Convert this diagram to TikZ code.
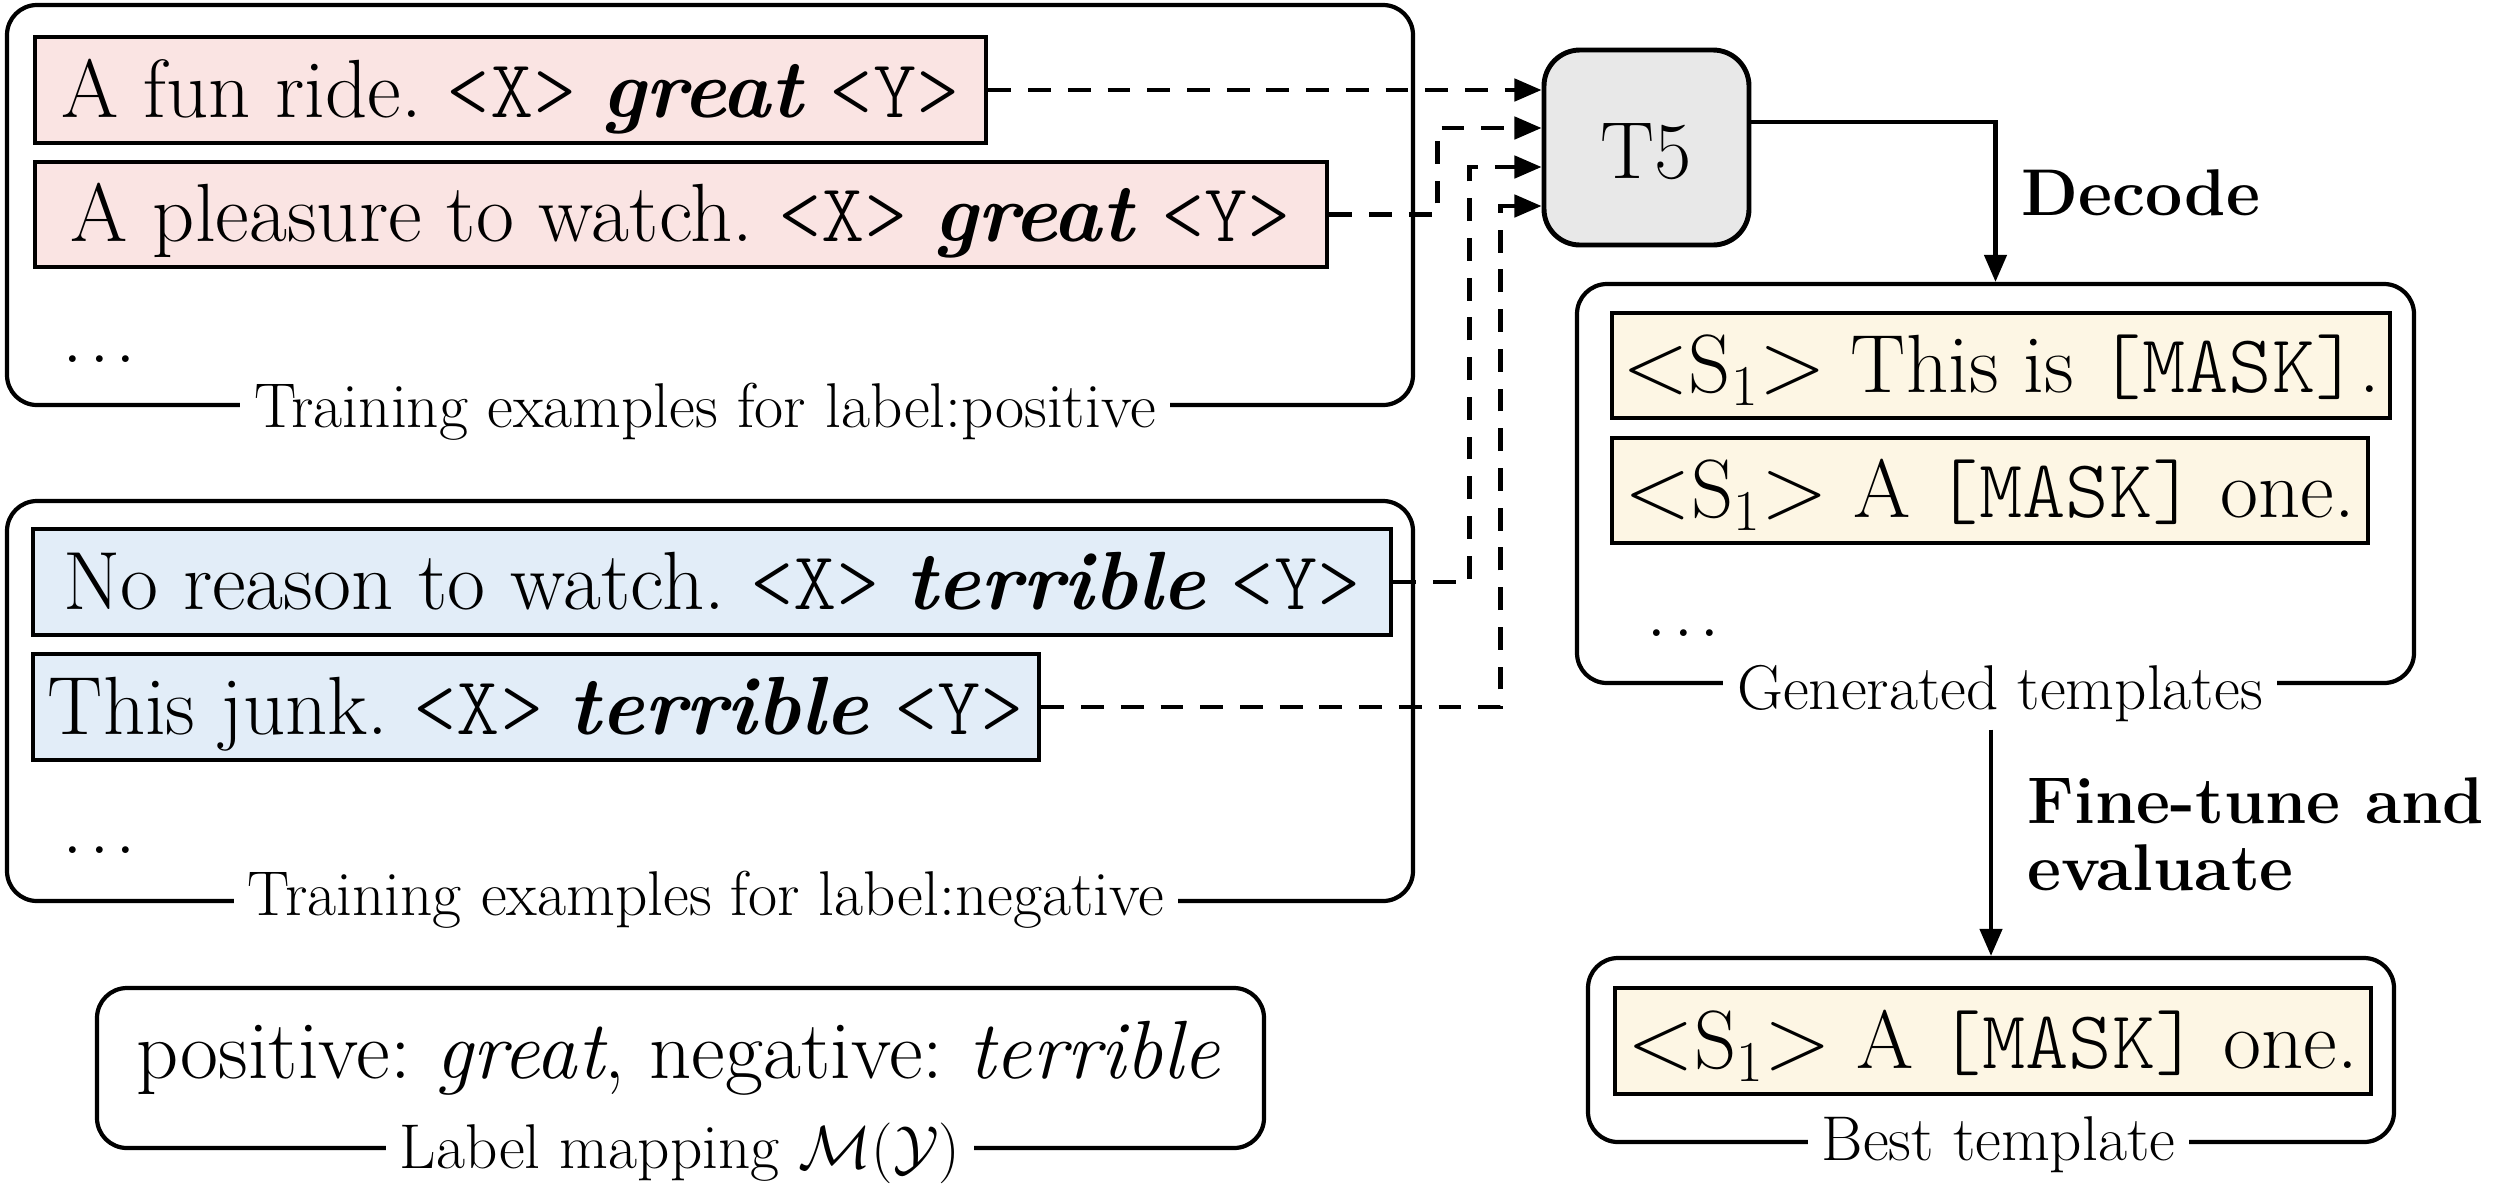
\documentclass[tikz,border=0pt]{standalone}
\usepackage{fontspec}
\setmonofont{lmmonolt10-regular.otf}
\usetikzlibrary{arrows.meta}
\frenchspacing

\definecolor{posfill}{RGB}{250,228,227}
\definecolor{negfill}{RGB}{226,237,248}
\definecolor{tmplfill}{RGB}{253,246,228}
\definecolor{modelfill}{RGB}{232,232,232}

\begin{document}
\begin{tikzpicture}[
	group/.style={draw, line width=1.2pt, rounded corners=0.3cm, inner sep=0pt},
	sample/.style={draw, line width=1.4pt, inner sep=0pt, text height=15.4pt, text depth=0pt, font=\fontsize{23.5}{28}\selectfont},
	bodytext/.style={inner sep=0pt, font=\fontsize{23.5}{28}\selectfont},
	grouplabel/.style={fill=white, anchor=base, inner xsep=4pt, inner ysep=1pt, font=\fontsize{18}{21}\selectfont},
	steplabel/.style={align=left, font=\fontsize{18.8}{19}\selectfont\bfseries},
	feed/.style={line width=1.2pt, dash pattern=on 6.5pt off 4.8pt, -{Triangle[length=7.7pt, width=6.3pt]}},
	flow/.style={line width=1.2pt, -{Triangle[length=7.7pt, width=6.3pt]}}
]
				\useasboundingbox (0, 0) rectangle (24.96, -12.03);
				% Paths, nodes and wires:
				\node[group, minimum width=14.06cm, minimum height=4cm] (posgroup) at (7.1, -2.05){};
				\node[sample, fill=posfill, minimum width=9.51cm, minimum height=1.06cm] (fun) at (5.105, -0.9){A fun ride. \texttt{<X>} \textbf{\textit{great}} \texttt{<Y>}};
				\node[sample, fill=posfill, minimum width=12.92cm, minimum height=1.05cm] (pleasure) at (6.81, -2.145){A pleasure to watch. \texttt{<X>} \textbf{\textit{great}} \texttt{<Y>}};
				\node[bodytext, anchor=base west] (posdots) at (0.62, -3.62){.\kern0.07em.\kern0.07em.};
				\node[grouplabel] (poslabel) at (7.05, -4.27){Training examples for label:positive};
				\node[group, minimum width=14.06cm, minimum height=4cm] (neggroup) at (7.1, -7.01){};
				\node[sample, fill=negfill, minimum width=13.58cm, minimum height=1.06cm] (noreason) at (7.12, -5.82){No reason to watch. \texttt{<X>} \textbf{\textit{terrible}} \texttt{<Y>}};
				\node[sample, fill=negfill, minimum width=10.06cm, minimum height=1.06cm] (junk) at (5.36, -7.07){This junk. \texttt{<X>} \textbf{\textit{terrible}} \texttt{<Y>}};
				\node[bodytext, anchor=base west] (negdots) at (0.62, -8.53){.\kern0.07em.\kern0.07em.};
				\node[grouplabel] (neglabel) at (7.06, -9.15){Training examples for label:negative};
				\node[group, minimum width=11.67cm, minimum height=1.6cm] (mapgroup) at (6.805, -10.68){};
				\node[bodytext, anchor=base] (mapping) at (6.785, -10.78){positive: \textit{great}, negative: \textit{terrible}};
				\node[grouplabel] (maplabel) at (6.8, -11.68){Label mapping $\mathcal{M}(\mathcal{Y})$};
				\node[draw, line width=1.4pt, rounded corners=0.36cm, fill=modelfill, minimum width=2.05cm, minimum height=1.95cm, text height=17.4pt, text depth=0pt, font=\fontsize{23}{28}\selectfont] (t5) at (16.465, -1.475){T5};
				\node[group, minimum width=8.37cm, minimum height=3.99cm] (gengroup) at (19.955, -4.835){};
				\node[sample, fill=tmplfill, minimum width=7.78cm, minimum height=1.05cm] (tmplone) at (20.01, -3.655){$<$S\textsubscript{1}$>$ This is \texttt{[MASK]}.};
				\node[sample, fill=tmplfill, minimum width=7.56cm, minimum height=1.05cm] (tmpltwo) at (19.9, -4.905){$<$S\textsubscript{1}$>$ A \texttt{[MASK]} one.};
				\node[bodytext, anchor=base west] (gendots) at (16.46, -6.36){.\kern0.07em.\kern0.07em.};
				\node[grouplabel] (genlabel) at (20, -7.09){Generated templates};
				\node[group, minimum width=8.06cm, minimum height=1.84cm] (bestgroup) at (19.91, -10.5){};
				\node[sample, fill=tmplfill, minimum width=7.56cm, minimum height=1.06cm] (best) at (19.93, -10.41){$<$S\textsubscript{1}$>$ A \texttt{[MASK]} one.};
				\node[grouplabel] (bestlabel) at (19.985, -11.6){Best template};
				\node[steplabel, anchor=base west, inner sep=0pt] (decode) at (20.21, -2.15){Decode};
				\node[steplabel, anchor=north west, inner sep=0pt] (finetune) at (20.27, -7.77){Fine-tune and\\evaluate};
				\draw[feed] (fun.east) -- (fun.east -| t5.west);
				\draw[feed] (pleasure.east) -- ++(1.08, 0) |- ([yshift=1.95mm]t5.west);
				\draw[feed] (noreason.east) -- ++(0.76, 0) |- ([yshift=-1.95mm]t5.west);
				\draw[feed] (junk.east) -- ++(4.59, 0) |- ([yshift=-5.85mm]t5.west);
				\draw[flow] ([yshift=2.55mm]t5.east) -| (gengroup.north);
				\draw[flow] ([yshift=-0.04cm]genlabel.south -| bestgroup.north) -- (bestgroup.north);
			\end{tikzpicture}
\end{document}
